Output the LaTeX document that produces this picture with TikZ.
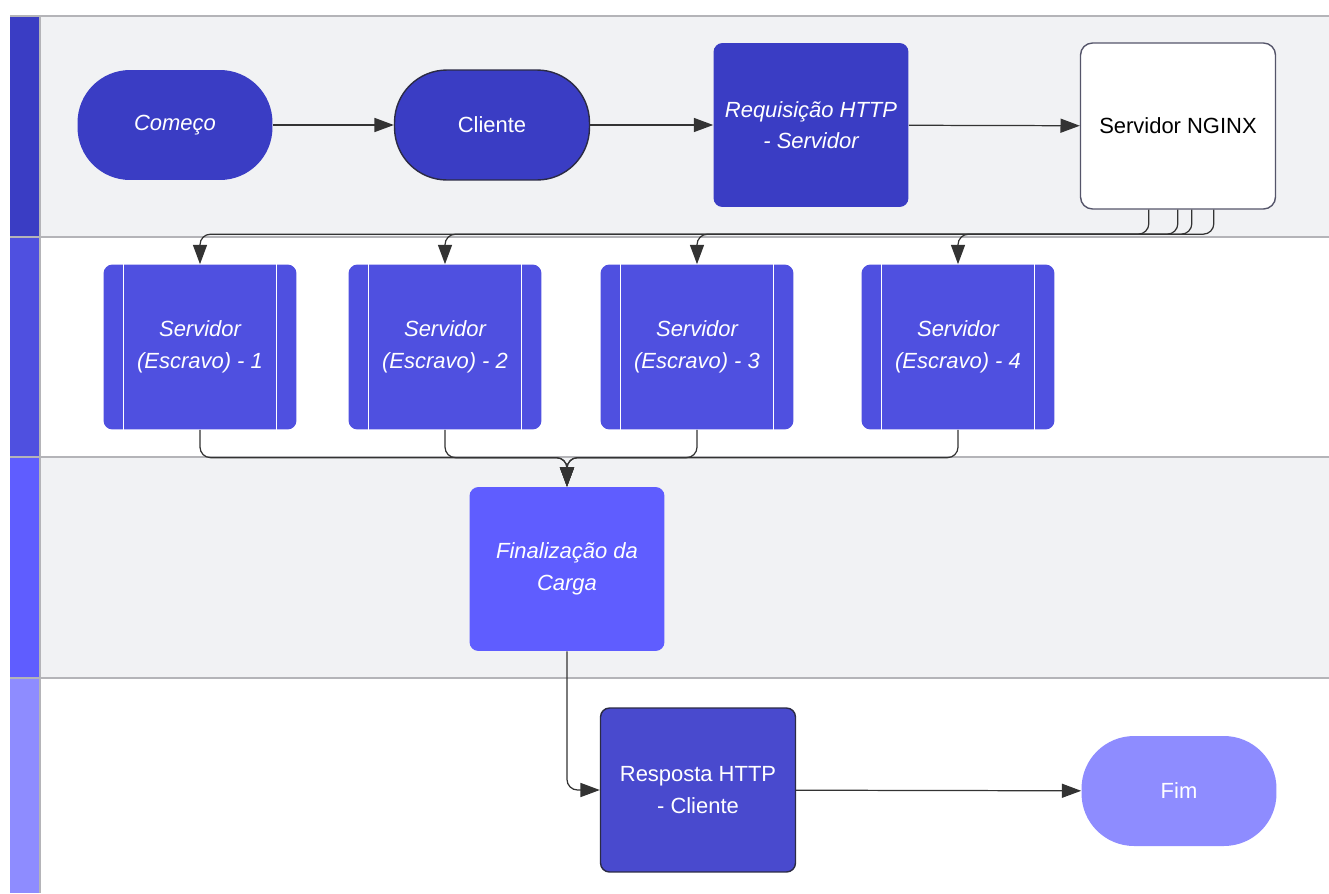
\documentclass[tikz,border=0pt]{standalone}
\usepackage{fontspec}
\setmainfont{Liberation Sans}
\usetikzlibrary{arrows.meta,calc}

\definecolor{laneGrey}{HTML}{F1F2F4}
\definecolor{laneLine}{HTML}{B4B4B8}
\definecolor{barA}{HTML}{3A3DC4}
\definecolor{barB}{HTML}{4F50E0}
\definecolor{barC}{HTML}{5F5DFF}
\definecolor{barD}{HTML}{8E8CFF}
\definecolor{edgeDark}{HTML}{2B2B45}

\newcommand{\boxfont}{\fontsize{12.5}{18}\selectfont}

\tikzset{
	box/.style={rectangle, draw=none, text=white, align=center, font=\boxfont,
		minimum width=3.9cm, minimum height=3.28cm, rounded corners=0.18cm},
	slanted/.style={font=\boxfont\itshape},
	terminal/.style={box, minimum height=2.2cm, rounded corners=1.05cm},
	slave/.style={box, slanted, fill=barB, minimum width=3.86cm, minimum height=3.3cm},
	flow/.style={draw=black!80, line width=0.7pt, rounded corners=6pt,
		-{Triangle[length=11pt,width=8pt]}}
}

\begin{document}
\begin{tikzpicture}[x=0.02cm, y=-0.02cm]
	% page size
	\useasboundingbox (0,0) rectangle (1329,893);
	
	% lanes
	\fill[laneGrey] (40,16) rectangle (1329,237);
	\fill[laneGrey] (40,457) rectangle (1329,678);
	\fill[barA] (10,16) rectangle (40,237);
	\fill[barB] (10,237) rectangle (40,457);
	\fill[barC] (10,457) rectangle (40,678);
	\fill[barD] (10,678) rectangle (40,893);
	\foreach \y in {16,237,457,678}
		\draw[laneLine, line width=1.2pt] (10,\y) -- (1329,\y);
	\draw[laneLine, line width=1.2pt] (40,16) -- (40,893);
	
	% first lane
	\node[terminal, slanted, fill=barA] (start) at (175,125) {Começo};
	\node[terminal, fill=barA, draw=edgeDark, line width=0.8pt] (client) at (492,125) {Cliente};
	\node[box, slanted, fill=barA] (request) at (811,125) {Requisição HTTP\\- Servidor};
	\node[box, fill=white, text=black, draw=edgeDark!80, line width=0.8pt,
		minimum height=3.32cm, rounded corners=0.24cm] (nginx) at (1178,126) {Servidor NGINX};
	
	\draw[flow] (start) -- (client);
	\draw[flow] (client) -- (request);
	\draw[flow] (request) -- (nginx);
	
	% slaves
	\foreach \i/\x in {1/200,2/445,3/697,4/958}{
		\node[slave] (s\i) at (\x,347) {Servidor\\(Escravo) - \i};
		\draw[white, line width=0.6pt] ($(s\i.north west)+(20,0)$) -- ($(s\i.south west)+(20,0)$);
		\draw[white, line width=0.6pt] ($(s\i.north east)+(-20,0)$) -- ($(s\i.south east)+(-20,0)$);
	}
	
	% nginx fan out
	\foreach \i/\dx in {1/69,2/98,3/112,4/134}
		\draw[flow] ($(nginx.south west)+(\dx,0)$) |- ($(s\i.north)+(0,-30)$) -- (s\i.north);
	
	% third lane
	\node[box, slanted, fill=barC] (finish) at (567,569) {Finalização da\\Carga};
	\foreach \i in {1,...,4}
		\draw[flow] (s\i.south) |- ($(finish.north)+(0,-29)$) -- (finish.north);
	
	% last lane
	\node[box, fill=barB!92!black, draw=edgeDark, line width=0.8pt] (answer) at (698,790) {Resposta HTTP\\- Cliente};
	\node[terminal, fill=barD] (end) at (1179,791) {Fim};
	
	\draw[flow] (finish.south) |- (answer.west);
	\draw[flow] (answer) -- (end);
\end{tikzpicture}
\end{document}
